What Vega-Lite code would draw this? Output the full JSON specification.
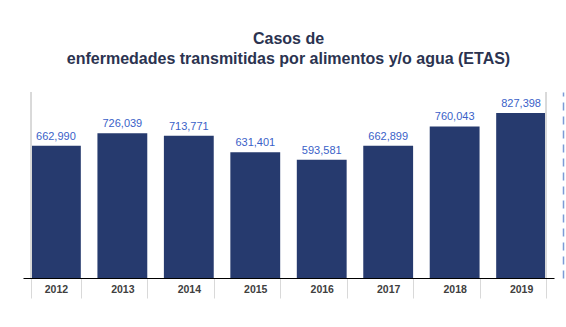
{
  "$schema": "https://vega.github.io/schema/vega-lite/v6.json",
  "autosize": "none",
  "width": 531,
  "height": 186,
  "padding": {"left": 23, "top": 92, "right": 12, "bottom": 49},
  "background": "white",
  "config": {"view": {"stroke": null}},
  "title": {
    "text": ["Casos de", "enfermedades transmitidas por alimentos y/o agua (ETAS)"],
    "font": "Liberation Sans",
    "fontSize": 16,
    "fontWeight": "bold",
    "color": "#2B3350",
    "anchor": "middle",
    "lineHeight": 20,
    "offset": 25
  },
  "data": {
    "values": [
      {"year": "2012", "cases": 662990},
      {"year": "2013", "cases": 726039},
      {"year": "2014", "cases": 713771},
      {"year": "2015", "cases": 631401},
      {"year": "2016", "cases": 593581},
      {"year": "2017", "cases": 662899},
      {"year": "2018", "cases": 760043},
      {"year": "2019", "cases": 827398}
    ]
  },
  "encoding": {
    "x": {
      "field": "year",
      "type": "nominal",
      "title": null,
      "scale": {"paddingInner": 0.25, "paddingOuter": 0.12},
      "axis": {
        "labelAngle": 0,
        "labelFont": "Liberation Sans",
        "labelFontSize": 10.5,
        "labelFontWeight": "bold",
        "labelColor": "#404040",
        "labelPadding": -14,
        "domainColor": "#000000",
        "domainWidth": 1.2,
        "tickBand": "extent",
        "tickColor": "#D9D9D9",
        "tickSize": 20,
        "tickWidth": 1
      }
    },
    "y": {
      "field": "cases",
      "type": "quantitative",
      "scale": {"domain": [0, 933000]},
      "axis": {
        "orient": "right",
        "offset": 9,
        "title": null,
        "labels": false,
        "ticks": false,
        "grid": false,
        "domainColor": "#7C9BD6",
        "domainWidth": 1.5,
        "domainDash": [8, 6]
      }
    }
  },
  "layer": [
    {
      "mark": {"type": "bar", "color": "#263A6E"}
    },
    {
      "mark": {
        "type": "text",
        "baseline": "bottom",
        "dy": -4,
        "font": "Liberation Sans",
        "fontSize": 11,
        "color": "#3A5FC8"
      },
      "encoding": {"text": {"field": "cases", "type": "quantitative", "format": ",d"}}
    },
    {
      "mark": {"type": "rule", "color": "#D9D9D9", "strokeWidth": 1},
      "encoding": {
        "x": {"datum": "2012", "type": "nominal", "bandPosition": 0},
        "y": {"datum": 0, "type": "quantitative"},
        "y2": {"datum": 933000}
      }
    },
    {
      "mark": {"type": "rule", "color": "#D9D9D9", "strokeWidth": 1},
      "encoding": {
        "x": {"datum": "2019", "type": "nominal", "bandPosition": 1},
        "y": {"datum": 0, "type": "quantitative"},
        "y2": {"datum": 933000}
      }
    }
  ]
}
